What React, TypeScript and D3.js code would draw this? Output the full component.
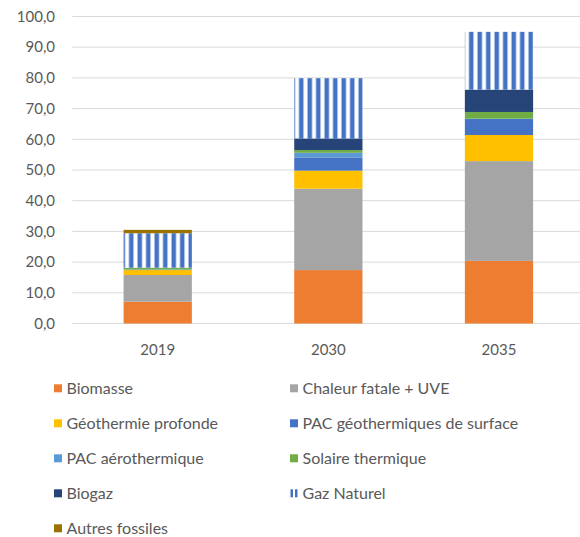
import React from "react";
import * as d3 from "d3";

const categories = ["2019", "2030", "2035"];
const seriesNames = [
  "Biomasse",
  "Chaleur fatale + UVE",
  "Géothermie profonde",
  "PAC géothermiques de surface",
  "PAC aérothermique",
  "Solaire thermique",
  "Biogaz",
  "Gaz Naturel",
  "Autres fossiles",
];
const seriesColors = ["#ED7D31", "#A5A5A5", "#FFC000", "#4472C4", "#5B9BD5", "#70AD47", "#264478", "url(#gazPattern)", "#997300"];
const biomasse = [7.1, 17.4, 20.4];
const chaleur = [8.7, 26.5, 32.5];
const geothermie = [1.6, 5.9, 8.5];
const pacGeo = [0.1, 4.3, 5.2];
const pacAero = [0.1, 1.5, 0.1];
const solaire = [0.6, 0.9, 2.2];
const biogaz = [0.0, 3.8, 7.3];
const gazNaturel = [11.2, 19.6, 18.8];
const autresFossiles = [1.1, 0.0, 0.0];
const seriesValues = [biomasse, chaleur, geothermie, pacGeo, pacAero, solaire, biogaz, gazNaturel, autresFossiles];
const yTicks = [0, 10, 20, 30, 40, 50, 60, 70, 80, 90, 100];

export default function App() {
  const W = 580, H = 537;
  const x = d3.scaleBand().domain(categories).range([72.4, 584.3]).paddingInner(0.6).paddingOuter(0.3);
  const y = d3.scaleLinear().domain([0, 100]).range([323.5, 16.5]);
  const fmt = (v: number) => v.toFixed(1).replace(".", ",");
  const font = "Lato, 'Open Sans', sans-serif";

  const rows = categories.map((c, i) => {
    let acc = 0;
    return seriesValues.map((vals, s) => {
      const y0 = acc;
      acc += vals[i];
      return { c, s, y0, y1: acc };
    });
  });

  return (
    <svg width={W} height={H} style={{ position: "absolute", left: 0, top: 0, background: "#fff" }}>
      <defs>
        <pattern id="gazPattern" patternUnits="userSpaceOnUse" width={8.5} height={8} x={0} y={0}>
          <rect x={0} y={0} width={8.5} height={8} fill="#fff" />
          <rect x={1.5} y={0} width={4.5} height={8} fill="#4472C4" />
        </pattern>
      </defs>
      {yTicks.map((t) => (
        <g key={t}>
          <line x1={72.4} x2={W} y1={y(t)} y2={y(t)} stroke="#d9d9d9" strokeWidth={1} />
          <text x={55} y={y(t)} dy="0.35em" textAnchor="end" fontFamily={font} fontSize={15} fill="#595959">
            {fmt(t)}
          </text>
        </g>
      ))}
      {rows.flat().map((d) =>
        d.y1 - d.y0 > 0 ? (
          <rect
            key={d.c + d.s}
            x={x(d.c)}
            width={x.bandwidth()}
            y={y(d.y1)}
            height={y(d.y0) - y(d.y1)}
            fill={seriesColors[d.s]}
          />
        ) : null
      )}
      {categories.map((c) => (
        <text key={c} x={(x(c) as number) + x.bandwidth() / 2} y={350} dy="0.35em" textAnchor="middle" fontFamily={font} fontSize={15} fill="#595959">
          {c}
        </text>
      ))}
      {seriesNames.map((n, i) => {
        const col = i % 2;
        const row = Math.floor(i / 2);
        const mx = col === 0 ? 54 : 290;
        const cy = 388.3 + row * 35;
        return (
          <g key={n}>
            {i === 7 ? (
              <g>
                <rect x={mx + 0.5} y={cy - 4} width={2.5} height={8} fill="#4472C4" />
                <rect x={mx + 5} y={cy - 4} width={2.5} height={8} fill="#4472C4" />
              </g>
            ) : (
              <rect x={mx} y={cy - 4} width={8} height={8} fill={seriesColors[i]} />
            )}
            <text x={mx + 12.5} y={cy} dy="0.35em" fontFamily={font} fontSize={16} fill="#595959">
              {n}
            </text>
          </g>
        );
      })}
    </svg>
  );
}
